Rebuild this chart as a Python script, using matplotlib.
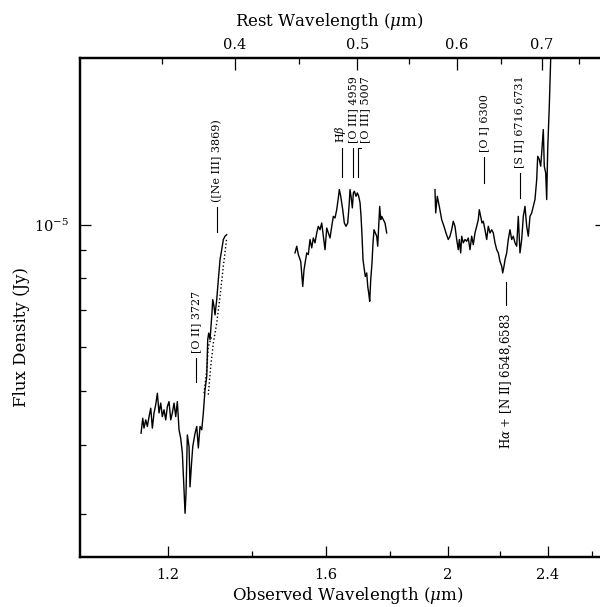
import numpy as np
import matplotlib
matplotlib.use("Agg")
import matplotlib.pyplot as plt
from matplotlib.ticker import FixedLocator, FixedFormatter, NullFormatter

plt.rcParams['font.family'] = 'DejaVu Serif'
plt.rcParams['mathtext.fontset'] = 'dejavuserif'

# 1 + z, converts rest wavelength to observed wavelength
zfac = 3.39

# J band spectrum (observed um, flux in 1e-6 Jy)
wl_j = [1.1425, 1.1460, 1.1487, 1.1523, 1.1557, 1.1593, 1.1629, 1.1663, 1.1699, 1.1735,
        1.1770, 1.1806, 1.1843, 1.1877, 1.1914, 1.1951, 1.1986, 1.2023, 1.2061, 1.2096,
        1.2134, 1.2171, 1.2207, 1.2245, 1.2283, 1.2319, 1.2357, 1.2380, 1.2402, 1.2432,
        1.2471, 1.2493, 1.2523, 1.2555, 1.2608, 1.2647, 1.2684, 1.2723, 1.2763, 1.2800,
        1.2840, 1.2880, 1.2903, 1.2927, 1.2958, 1.2998, 1.3022, 1.3052, 1.3076, 1.3117,
        1.3155, 1.3196, 1.3237, 1.3276, 1.3317, 1.3358]
fl_j = [4.20, 4.47, 4.29, 4.44, 4.32, 4.50, 4.66, 4.29, 4.57, 4.73,
        4.96, 4.57, 4.76, 4.50, 4.63, 4.44, 4.69, 4.79, 4.44, 4.57,
        4.76, 4.50, 4.79, 4.26, 4.11, 3.87, 3.32, 3.01, 3.27, 4.17,
        3.97, 3.36, 3.66, 3.97, 4.20, 4.32, 3.95, 4.32, 4.26, 4.57,
        5.03, 5.32, 6.20, 6.37, 6.20, 6.83, 7.32, 7.12, 6.87, 7.32,
        7.95, 8.64, 9.01, 9.40, 9.53, 9.59]

# comparison spectra over the J band rise (dotted)
wl_da = [1.2817, 1.2880, 1.2917, 1.2998]
fl_da = [4.96, 5.47, 6.02, 6.28]
wl_db = [1.2917, 1.2974, 1.3036, 1.3117, 1.3196, 1.3276, 1.3358]
fl_db = [4.93, 5.54, 6.11, 6.64, 7.42, 8.41, 9.46]

# H band
wl_h = [1.5132, 1.5179, 1.5223, 1.5290, 1.5346, 1.5382, 1.5419, 1.5458, 1.5503, 1.5551,
        1.5600, 1.5645, 1.5694, 1.5743, 1.5789, 1.5838, 1.5887, 1.5934, 1.5983, 1.6033,
        1.6080, 1.6130, 1.6180, 1.6227, 1.6277, 1.6328, 1.6376, 1.6406, 1.6448, 1.6508,
        1.6556, 1.6608, 1.6659, 1.6699, 1.6729, 1.6760, 1.6800, 1.6831, 1.6861, 1.6914,
        1.6954, 1.6997, 1.7038, 1.7069, 1.7100, 1.7131, 1.7172, 1.7203, 1.7247, 1.7279,
        1.7310, 1.7341, 1.7373, 1.7414, 1.7446, 1.7478, 1.7519, 1.7564, 1.7596, 1.7628,
        1.7660, 1.7693, 1.7725, 1.7777, 1.7832, 1.7887]
fl_h = [8.89, 9.14, 8.83, 8.58, 7.73, 8.29, 8.58, 8.89, 8.83, 9.40,
        9.08, 9.46, 9.27, 9.66, 9.93, 9.79, 10.07, 9.53, 9.01, 9.86,
        9.66, 9.46, 9.93, 10.35, 10.28, 10.64, 11.18, 11.57, 11.25, 10.64,
        10.07, 9.93, 10.07, 10.79, 11.57, 11.25, 10.72, 11.41, 11.49, 11.25,
        11.41, 11.25, 10.95, 10.35, 9.53, 8.64, 8.29, 8.06, 8.18, 7.73,
        7.52, 7.27, 7.95, 8.53, 9.27, 9.79, 9.66, 9.53, 9.14, 9.93,
        10.79, 10.21, 10.35, 10.21, 10.07, 9.66]

# K band
wl_k = [1.9535, 1.9560, 1.9617, 1.9689, 1.9775, 1.9858, 1.9931, 2.0015, 2.0077, 2.0139,
        2.0198, 2.0261, 2.0324, 2.0383, 2.0421, 2.0473, 2.0510, 2.0570, 2.0634, 2.0698,
        2.0759, 2.0823, 2.0888, 2.0949, 2.1014, 2.1080, 2.1141, 2.1180, 2.1234, 2.1284,
        2.1335, 2.1401, 2.1468, 2.1531, 2.1598, 2.1665, 2.1728, 2.1796, 2.1864, 2.1928,
        2.1996, 2.2064, 2.2104, 2.2157, 2.2197, 2.2266, 2.2331, 2.2400, 2.2470, 2.2536,
        2.2606, 2.2676, 2.2742, 2.2813, 2.2884, 2.2951, 2.3022, 2.3094, 2.3161, 2.3233,
        2.3305, 2.3374, 2.3446, 2.3519, 2.3562, 2.3631, 2.3691, 2.3735, 2.3804, 2.3847,
        2.3908, 2.3952, 2.3996, 2.4066, 2.4127, 2.4185]
fl_k = [11.57, 10.50, 11.25, 10.79, 10.21, 9.93, 9.66, 9.40, 9.53, 9.79,
        10.14, 9.93, 9.40, 9.01, 9.40, 8.89, 9.53, 9.27, 9.40, 9.33,
        9.46, 9.01, 9.53, 9.20, 9.66, 9.93, 10.21, 10.64, 10.35, 10.07,
        10.14, 9.79, 9.40, 9.93, 9.66, 9.79, 9.66, 9.27, 9.01, 8.89,
        8.58, 8.41, 8.18, 8.41, 8.64, 8.89, 9.40, 9.79, 9.40, 9.53,
        9.27, 9.14, 10.35, 8.89, 9.40, 10.35, 10.79, 9.93, 9.53, 10.35,
        10.50, 10.79, 11.10, 12.06, 13.29, 13.11, 12.75, 13.48, 14.85, 12.75,
        12.40, 11.10, 13.67, 16.37, 19.88, 21.60]

# emission lines (rest um) and their labels
line_rest = [0.3727, 0.3869, 0.4861, 0.4959, 0.5007, 0.6300, 0.6724, 0.6565]
line_text = ['[O II] 3727', '([Ne III] 3869)', r'H$\beta$', '[O III] 4959',
             '[O III] 5007', '[O I] 6300', '[S II] 6716,6731',
             r'H$\alpha$ + [N II] 6548,6583']
# marker extent (1e-6 Jy), label side and label x offset factor
mark_lo = [5.20, 9.71, 12.21, 12.21, 12.21, 11.91, 11.19, 7.17]
mark_hi = [5.75, 10.78, 13.78, 13.78, 13.78, 13.27, 12.42, 7.89]
mark_side = ['up', 'up', 'up', 'up', 'up', 'up', 'up', 'down']
mark_shift = [1.0, 1.0, 0.998, 1.0015, 1.0128, 1.0, 1.0, 1.0]

xlo, xhi = 1.022, 2.669
ylo, yhi = 2.51e-6, 2.0e-5

fig = plt.figure(figsize=(6.0, 6.07), dpi=100)
ax = fig.add_axes([0.1333, 0.0824, 0.8767, 0.8221])

for wl, fl in ((wl_j, fl_j), (wl_h, fl_h), (wl_k, fl_k)):
    ax.plot(wl, np.array(fl) * 1e-6, color='black', lw=1.0)
for wl, fl in ((wl_da, fl_da), (wl_db, fl_db)):
    ax.plot(wl, np.array(fl) * 1e-6, color='black', lw=1.0, ls=':')

for rest, txt, lo, hi, side, sh in zip(line_rest, line_text, mark_lo, mark_hi,
                                       mark_side, mark_shift):
    x = rest * zfac
    if sh > 1.01:
        # leader bends over towards the shifted label
        ax.plot([x, x, x * 1.0055], [lo * 1e-6, hi * 1e-6, hi * 1e-6],
                color='black', lw=0.8)
    else:
        ax.plot([x, x], [lo * 1e-6, hi * 1e-6], color='black', lw=0.8)
    if side == 'up':
        ax.text(x * sh, hi * 1e-6 * 1.021, txt, rotation=90, ha='center',
                va='bottom', fontsize=8)
    else:
        ax.text(x * sh, lo * 1e-6 / 1.034, txt, rotation=90, ha='center',
                va='top', fontsize=8.5)

ax.set_xscale('log')
ax.set_yscale('log')
ax.set_xlim(xlo, xhi)
ax.set_ylim(ylo, yhi)

ax.xaxis.set_major_locator(FixedLocator([1.2, 1.6, 2.0, 2.4]))
ax.xaxis.set_major_formatter(FixedFormatter(['1.2', '1.6', '2', '2.4']))
ax.xaxis.set_minor_locator(FixedLocator([1.4, 1.8, 2.2, 2.6]))
ax.xaxis.set_minor_formatter(NullFormatter())
ax.yaxis.set_major_locator(FixedLocator([1e-5]))
ax.yaxis.set_major_formatter(FixedFormatter([r'$10^{-5}$']))
ax.yaxis.set_minor_locator(FixedLocator([3e-6, 4e-6, 5e-6, 6e-6, 7e-6, 8e-6, 9e-6]))
ax.yaxis.set_minor_formatter(NullFormatter())

ax.tick_params(which='both', direction='in', top=False, right=True, width=0.9)
ax.tick_params(which='major', length=8, pad=8, labelsize=10.5)
ax.tick_params(which='minor', length=4)

ax.set_xlabel(r'Observed Wavelength ($\mu$m)', fontsize=12)
ax.xaxis.label.set_verticalalignment('center')
ax.xaxis.set_label_coords(0.509, -0.078)
ax.set_ylabel('Flux Density (Jy)', fontsize=12)
ax.yaxis.label.set_verticalalignment('center')
ax.yaxis.set_label_coords(-0.111, 0.441)

# rest-frame wavelength along the top
ax2 = ax.twiny()
ax2.set_xscale('log')
ax2.set_xlim(xlo / zfac, xhi / zfac)
ax2.xaxis.set_major_locator(FixedLocator([0.4, 0.5, 0.6, 0.7]))
ax2.xaxis.set_major_formatter(FixedFormatter(['0.4', '0.5', '0.6', '0.7']))
ax2.xaxis.set_minor_locator(FixedLocator([0.35, 0.45, 0.55, 0.65, 0.75]))
ax2.xaxis.set_minor_formatter(NullFormatter())
ax2.tick_params(which='both', direction='in', width=0.9)
ax2.tick_params(which='major', length=8.5, pad=4, labelsize=10.5)
ax2.tick_params(which='minor', length=4)
ax2.set_xlabel(r'Rest Wavelength ($\mu$m)', fontsize=12)
ax2.xaxis.label.set_verticalalignment('center')
ax2.xaxis.set_label_coords(0.473, 1.074)

for a in (ax, ax2):
    for s in a.spines.values():
        s.set_linewidth(1.6)

fig.savefig('out.png', dpi=100)
